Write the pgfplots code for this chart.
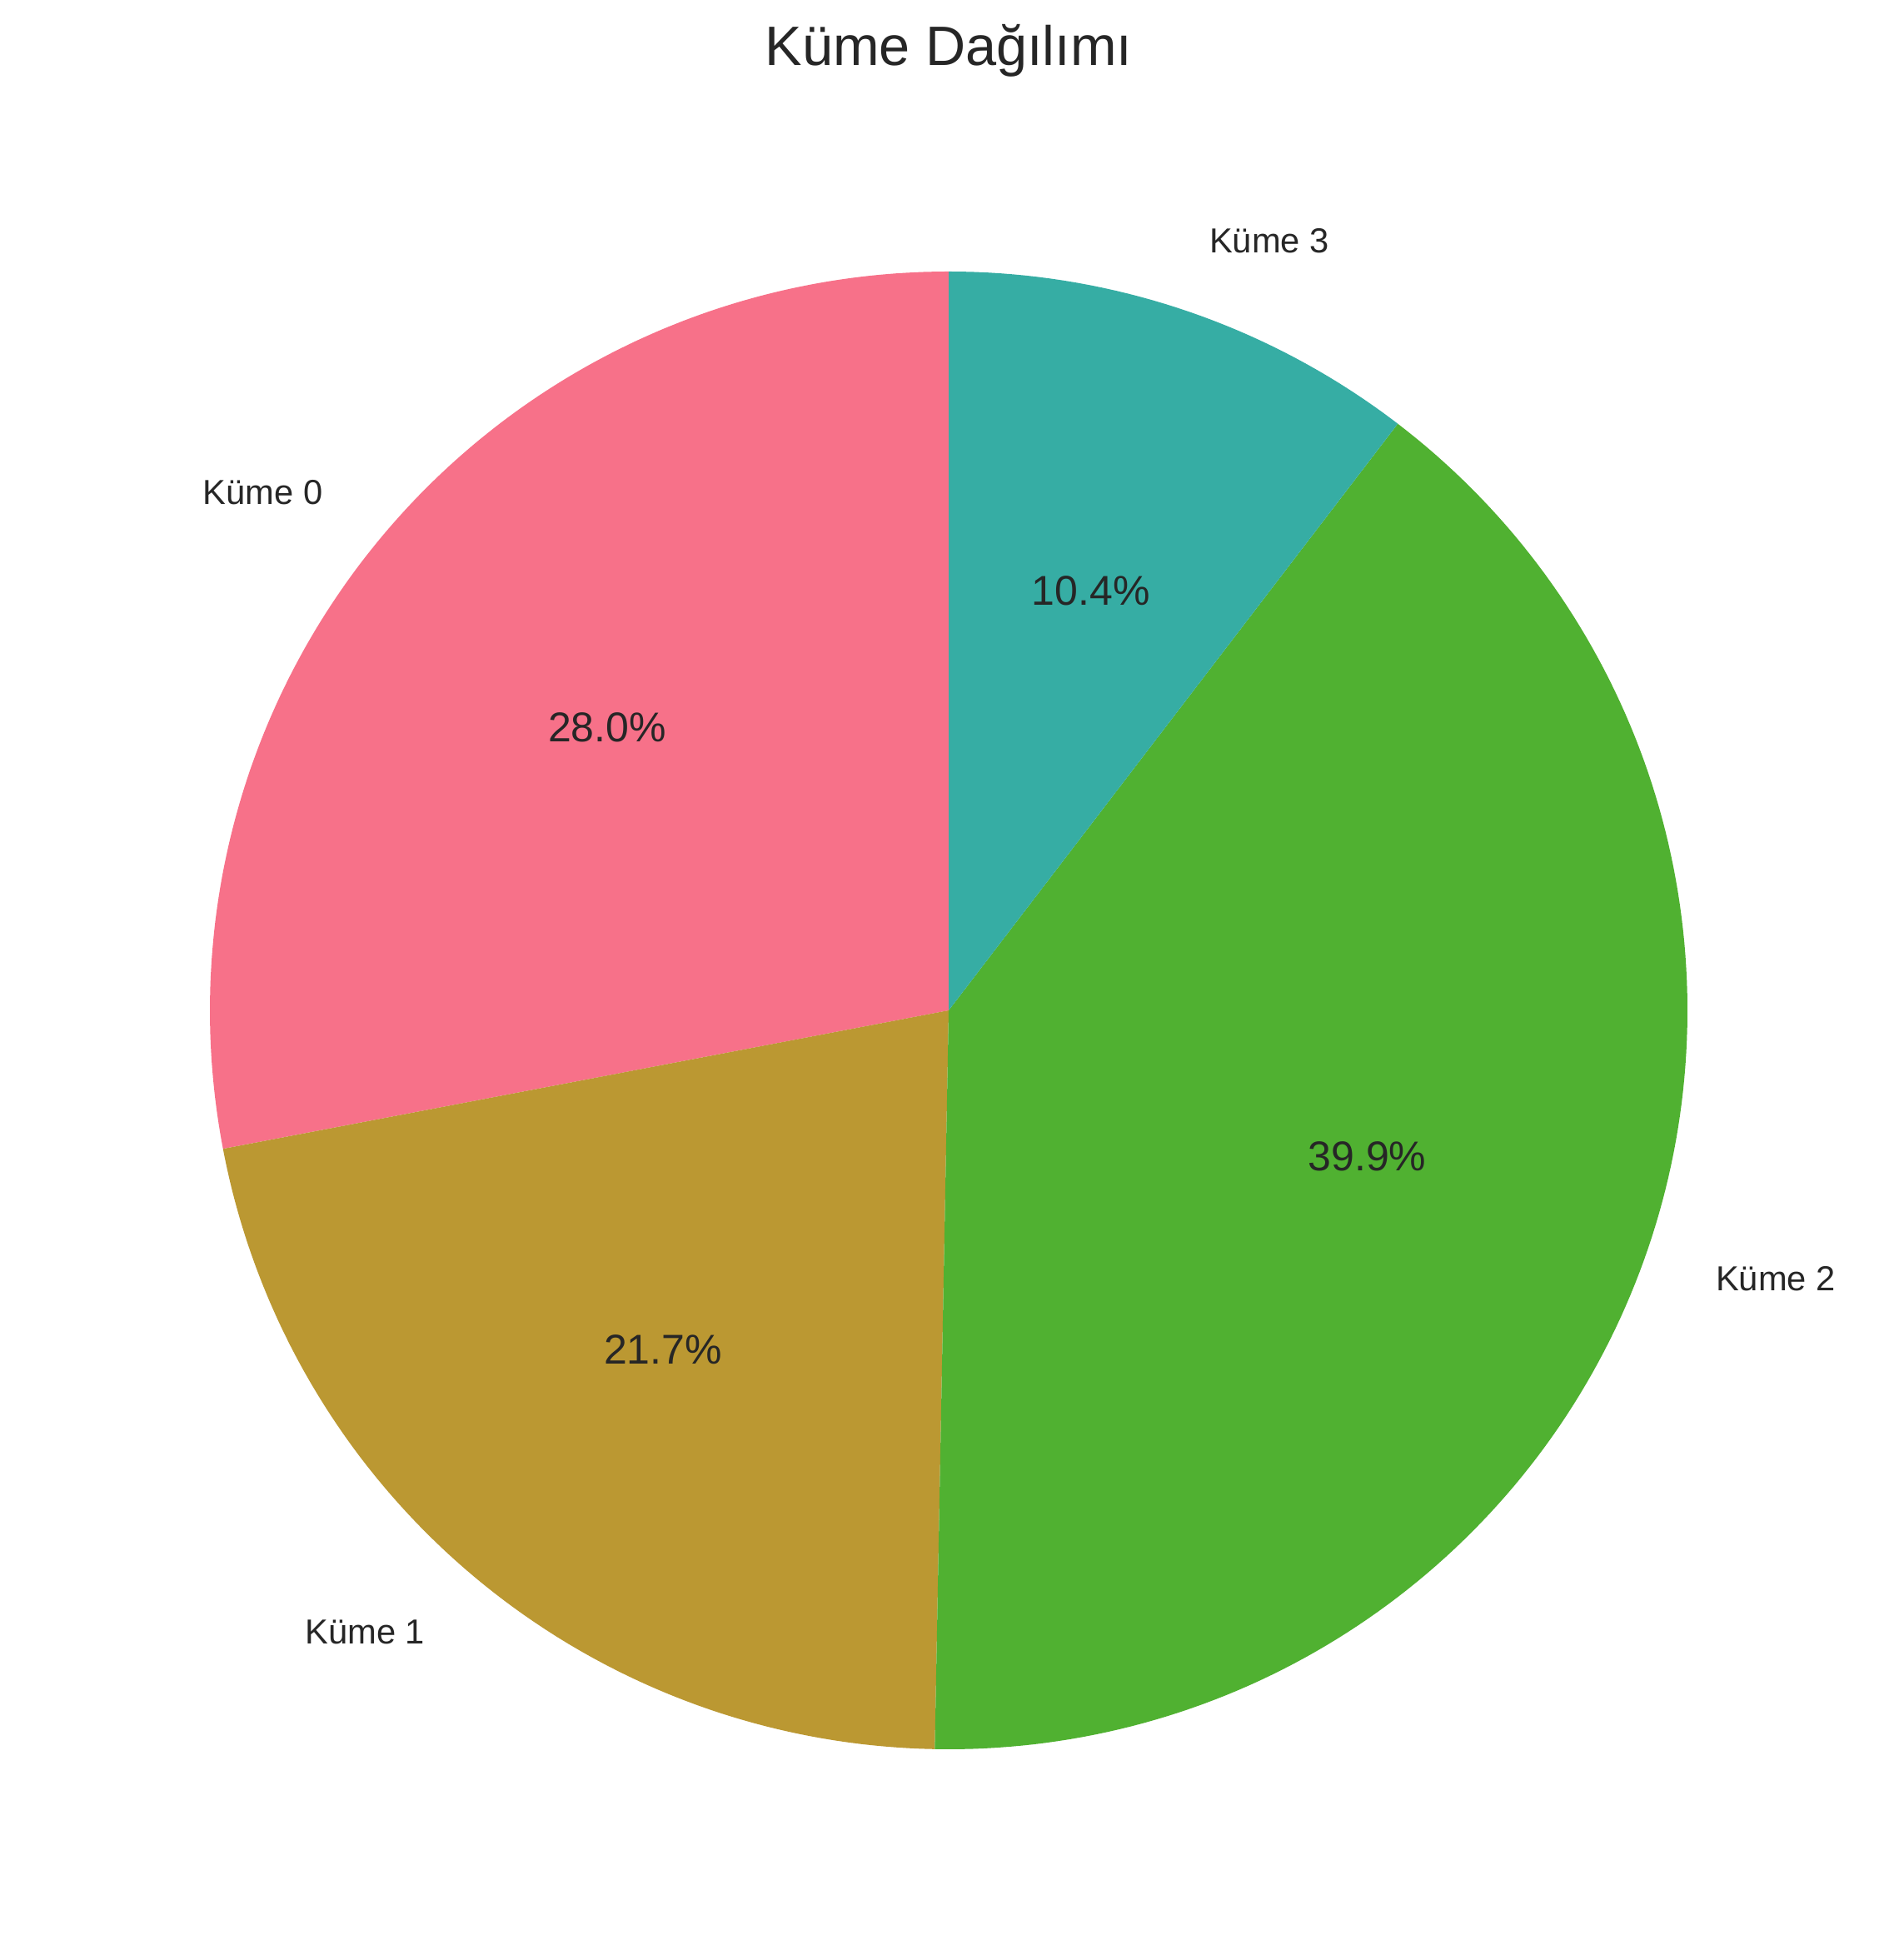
\documentclass[border=0pt]{standalone}
\usepackage{pgfplots}
\usepackage{pgfplotstable}
\pgfplotsset{compat=1.18}
\usepackage{fontspec}
\setmainfont{Liberation Sans}

\definecolor{k0}{HTML}{F77189}
\definecolor{k1}{HTML}{BB9832}
\definecolor{k2}{HTML}{50B131}
\definecolor{k3}{HTML}{36ADA4}
\definecolor{txt}{HTML}{262626}

% share of each cluster, percent
\pgfplotstableread{
kume pct
0 28.0
1 21.7
2 39.9
3 10.4
}\kumetable

\newcommand\slice[3]{%
  \addplot[fill=#3, draw=none, domain=#1:#2, samples=150, variable=\t]
    ({cos(\t)},{sin(\t)}) -- (axis cs:0,0) -- cycle;
}
\newcommand\pct[1]{\pgfmathprintnumber[fixed,fixed zerofill,precision=1,assume math mode=true]{#1}\%}
\tikzset{
  lbl/.style={text=txt, inner sep=0pt, outer sep=0pt, font=\fontsize{10}{12}\selectfont},
  pctlbl/.style={text=txt, inner sep=0pt, outer sep=0pt, font=\fontsize{12}{14}\selectfont},
}

\begin{document}
\begin{tikzpicture}
\pgfplotstablegetelem{0}{pct}\of\kumetable \let\pA\pgfplotsretval
\pgfplotstablegetelem{1}{pct}\of\kumetable \let\pB\pgfplotsretval
\pgfplotstablegetelem{2}{pct}\of\kumetable \let\pC\pgfplotsretval
\pgfplotstablegetelem{3}{pct}\of\kumetable \let\pD\pgfplotsretval
% start at 90 deg, counterclockwise
\pgfmathsetmacro\aA{90}
\pgfmathsetmacro\aB{\aA+3.6*\pA}
\pgfmathsetmacro\aC{\aB+3.6*\pB}
\pgfmathsetmacro\aD{\aC+3.6*\pC}
\pgfmathsetmacro\aE{\aD+3.6*\pD}
\pgfmathsetmacro\mA{(\aA+\aB)/2}
\pgfmathsetmacro\mB{(\aB+\aC)/2}
\pgfmathsetmacro\mC{(\aC+\aD)/2}
\pgfmathsetmacro\mD{(\aD+\aE)/2}
\begin{axis}[
    scale only axis,
    width=546.96pt, height=564.72pt,
    xmin=-1.2841, xmax=1.2852,
    ymin=-1.2852, ymax=1.3675,
    hide axis,
    clip=false,
]
% keep the whole figure area
\path (rel axis cs:0,0) rectangle (rel axis cs:1,1);

\slice{\aA}{\aB}{k0}
\slice{\aB}{\aC}{k1}
\slice{\aC}{\aD}{k2}
\slice{\aD}{\aE}{k3}

\node[lbl, anchor=east] at (axis cs:{1.1*cos(\mA)},{1.1*sin(\mA)}) {Küme 0};
\node[lbl, anchor=east] at (axis cs:{1.1*cos(\mB)},{1.1*sin(\mB)}) {Küme 1};
\node[lbl, anchor=west] at (axis cs:{1.1*cos(\mC)},{1.1*sin(\mC)}) {Küme 2};
\node[lbl, anchor=west] at (axis cs:{1.1*cos(\mD)},{1.1*sin(\mD)}) {Küme 3};

\node[pctlbl] at (axis cs:{0.6*cos(\mA)},{0.6*sin(\mA)}) {\pct{\pA}};
\node[pctlbl] at (axis cs:{0.6*cos(\mB)},{0.6*sin(\mB)}) {\pct{\pB}};
\node[pctlbl] at (axis cs:{0.6*cos(\mC)},{0.6*sin(\mC)}) {\pct{\pC}};
\node[pctlbl] at (axis cs:{0.6*cos(\mD)},{0.6*sin(\mD)}) {\pct{\pD}};

\node[text=txt, inner sep=0pt, anchor=base, font=\fontsize{16}{19}\selectfont] at (axis cs:0,1.2785) {Küme Dağılımı};
\end{axis}
\end{tikzpicture}
\end{document}
